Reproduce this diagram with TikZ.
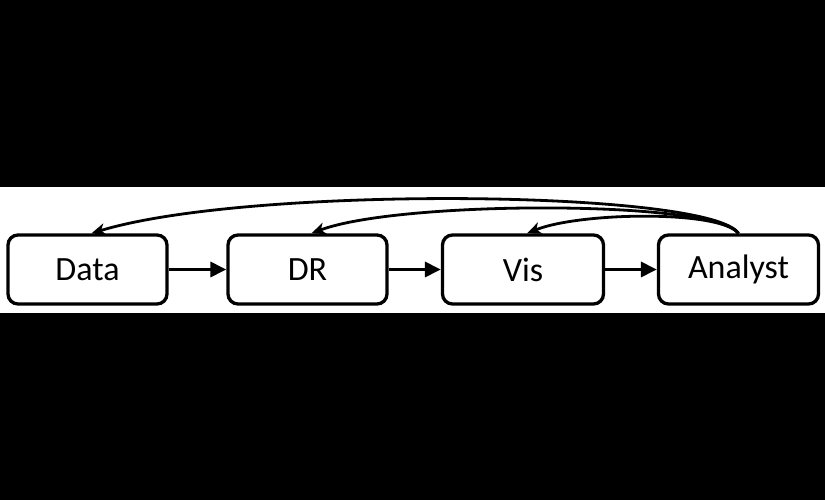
\documentclass[tikz,border=0pt]{standalone}
\usepackage{fontspec}
\setmainfont{Carlito}
\usetikzlibrary{arrows.meta}
\begin{document}
\begin{tikzpicture}[x=1pt,y=1pt,
  box/.style={draw=black, line width=3.3pt, rounded corners=10pt, fill=white,
    minimum width=159pt, minimum height=69pt, inner sep=0pt,
    font=\fontsize{34}{38}\selectfont},
  flow/.style={line width=3.3pt, -{Triangle[length=16pt,width=15pt]}},
  back/.style={line width=2.8pt, -{Stealth[length=14pt,width=12pt,inset=4pt]}}]
  \fill[black] (0,0) rectangle (825,-500);
  \fill[white] (0,-187) rectangle (825,-313);
  \useasboundingbox (0,0) rectangle (825,-500);
  \node[box] (data) at (87.5,-269.5) {Data};
  \node[box] (dr) at (307.5,-269.5) {DR};
  \node[box, minimum width=161pt] (vis) at (523,-269.5) {Vis};
  \node[box, minimum width=160pt] (an) at (738.5,-269.5) {Analyst};
  \draw[flow] (data.east) -- (dr.west);
  \draw[flow] (dr.east) -- (vis.west);
  \draw[flow] (vis.east) -- (an.west);
  \draw[back] (an.north) .. controls (710,-190) and (250,-185) .. ([xshift=4pt]data.north);
  \draw[back] (an.north) .. controls (715,-200) and (400,-200) .. ([xshift=4pt]dr.north);
  \draw[back] (an.north) .. controls (720,-210) and (580,-212) .. ([xshift=4pt]vis.north);
\end{tikzpicture}
\end{document}
